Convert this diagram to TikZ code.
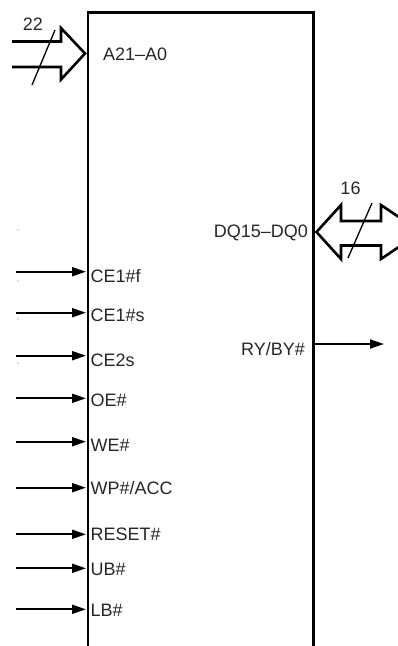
\documentclass[tikz,border=0pt]{standalone}
\usepackage{fontspec}
\setmainfont{Liberation Sans}
\usetikzlibrary{arrows.meta}
\begin{document}
\begin{tikzpicture}[x=1pt,y=-1pt,
  lbl/.style={font=\fontsize{18}{20}\selectfont, inner sep=0pt, text=black!85},
  sig/.style={line width=2pt, -{Triangle[length=14pt,width=9pt]}},
  body/.style={line width=2.7pt, line cap=butt},
  bus/.style={line width=2.6pt, miter limit=10},
  slash/.style={line width=1.3pt}]
\useasboundingbox (0,0) rectangle (398,646);
\begin{scope}
\clip (0,0) rectangle (398,646);
% chip body (open bottom)
\coordinate (bl) at (88,646);
\coordinate (tl) at (88,12.7);
\coordinate (tr) at (313.3,12.7);
\coordinate (br) at (313.3,646);
\draw[body] (bl) -- (tl) -- (tr) -- (br);
% address bus
\draw[bus] (12,41.5) -- (61,41.5) -- (61,28) -- (85,53.5) -- (61,79.5) -- (61,67) -- (12,67);
\draw[slash] (32,85) -- (55,30);
\node[lbl, anchor=base] (n22) at (33,30) {22};
\node[lbl, anchor=base west] (addr) at (103,60) {A21--A0};
% data bus
\draw[bus] (316.5,232) -- (341,205) -- (341,221) -- (381,221) -- (381,205) -- (421,232) -- (381,259) -- (381,245.5) -- (341,245.5) -- (341,259) -- cycle;
\draw[slash] (348,258) -- (372,203);
\node[lbl, anchor=base] (n16) at (350.5,194) {16};
\node[lbl, anchor=base east] (dq) at (308,237.3) {DQ15--DQ0};
% output
\coordinate (ryin) at (313.3,344);
\coordinate (ryout) at (384,344);
\draw[sig] (ryin) -- (ryout);
\node[lbl, anchor=base east] (ry) at (305,355) {RY/BY\#};
% inputs
\foreach \nm/\ya/\yb/\txt in {cef/271.7/282/{CE1\#f}, ces/312.7/321.5/{CE1\#s}, cet/355.7/366/{CE2s}, oe/398.3/406.5/{OE\#}, we/441.7/451.7/{WE\#}, wp/487.7/494/{WP\#/ACC}, rs/534.3/540.5/{RESET\#}, ub/568.3/575/{UB\#}, lb/609.3/616.7/{LB\#}}{
  \coordinate (\nm s) at (16,\ya);
  \coordinate (\nm e) at (86,\ya);
  \draw[sig] (\nm s) -- (\nm e);
  \node[lbl, anchor=base west] (\nm) at (90.5,\yb) {\txt};
}
% tiny specks
\foreach \yy in {230,281,319,363}{\fill[black!50] (18,\yy) circle (0.6);}
\end{scope}
\end{tikzpicture}
\end{document}
